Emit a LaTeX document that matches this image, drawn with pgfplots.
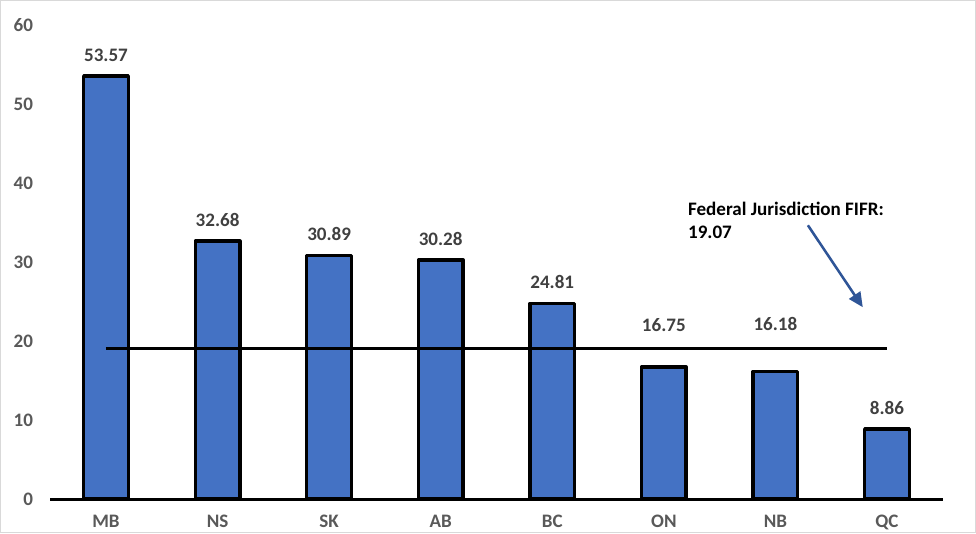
\documentclass[border=0pt]{standalone}
\usepackage{fontspec}
\setmainfont{Carlito}
\usepackage{pgfplots}
\usepackage{pgfplotstable}
\pgfplotsset{compat=1.18}
\usetikzlibrary{arrows.meta}
\definecolor{barblue}{RGB}{68,114,196}
\definecolor{arrowblue}{RGB}{47,85,151}
\definecolor{gridgrey}{RGB}{217,217,217}
\definecolor{tickgrey}{RGB}{89,89,89}
\definecolor{labelgrey}{RGB}{64,64,64}
\newcommand\cf{\fontsize{14.3}{17}\selectfont\bfseries}

% x = province index, y = FIFR, shift = extra lift of the data label (pt)
\pgfplotstableread{
x y     shift
0 53.57 0
1 32.68 0
2 30.89 0
3 30.28 0
4 24.81 0
5 16.75 15.75
6 16.18 19.5
7 8.86  0
}\fifr

\begin{document}
\begin{tikzpicture}
  \begin{axis}[
      scale only axis,
      width=669.75pt,
      height=355.5pt,
      xmin=-0.5, xmax=7.5,
      ymin=0, ymax=60,
      xtick={0,1,2,3,4,5,6,7},
      xticklabels={MB,NS,SK,AB,BC,ON,NB,QC},
      ytick={0,10,20,30,40,50,60},
      axis x line*=bottom,
      axis y line=none,
      x axis line style={line width=2.25pt, -},
      ymajorgrids=true,
      grid style={gridgrey, line width=1.1pt},
      major tick length=0pt,
      /pgf/number format/assume math mode=true,
      ticklabel style={font=\cf, text=tickgrey},
      xticklabel style={anchor=north, inner sep=0pt, yshift=-11.5pt},
      clip=false,
    ]
    % y tick labels, set by hand since the y axis line is hidden
    \pgfplotsinvokeforeach{0,10,20,30,40,50,60}{
      \node[font=\cf, text=tickgrey, anchor=east, inner sep=0pt] at (axis cs:-0.5,#1) [xshift=-12.75pt] {#1};
    }
    \addplot[ybar, bar width=0.4, fill=barblue, draw=black,
      line width=2.5pt, line join=round,
      visualization depends on={\thisrow{shift} \as \lshift},
      nodes near coords={\pgfmathprintnumber[fixed,precision=2,fixed zerofill,assume math mode=true]{\pgfplotspointmeta}},
      every node near coord/.append style={font=\cf, text=labelgrey,
        anchor=south, inner sep=0pt, yshift={(9.75+\lshift)*1pt}}]
      table[x=x, y=y] {\fifr};
    % federal jurisdiction FIFR
    \addplot[black, line width=2.25pt, mark=none] coordinates {(0,19.07) (7,19.07)};
    \node[font=\cf, align=left, anchor=north west, inner sep=0pt] at (axis cs:5.2156,37.7)
      {Federal Jurisdiction FIFR:\\[0.5pt]19.07};
    \draw[arrowblue, line width=1.9pt, -{Triangle[length=11pt, width=10pt]}]
      (axis cs:6.291,34.68) -- (axis cs:6.783,24.30);
    % outer frame
    \draw[gridgrey, line width=1.1pt]
      (axis description cs:-0.0554,-0.0710) rectangle (axis description cs:1.0364,1.0519);
  \end{axis}
\end{tikzpicture}
\end{document}
